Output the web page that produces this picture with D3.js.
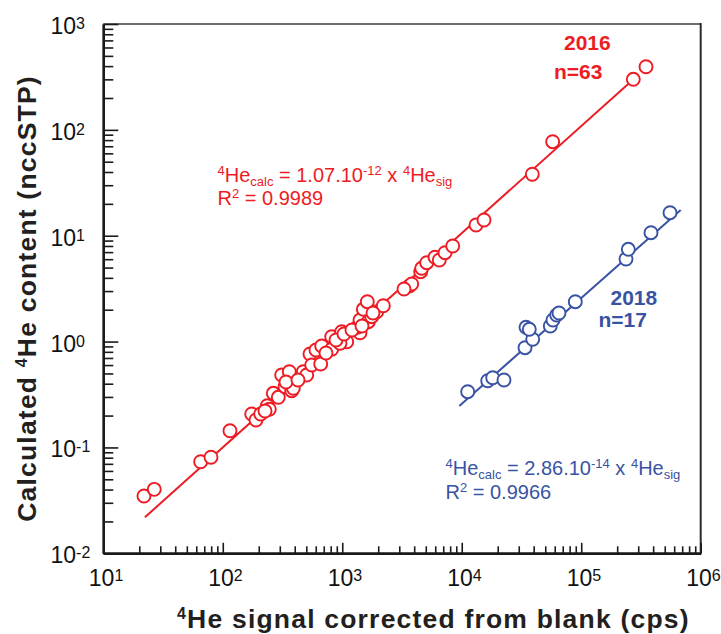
<!DOCTYPE html>
<html>
<head>
<meta charset="utf-8">
<script src="https://cdn.jsdelivr.net/npm/d3@7"></script>
<style>
  body { margin: 0; background: #fff; }
  svg { display: block; font-family: "Liberation Sans", Arial, Helvetica, sans-serif; }
</style>
</head>
<body>
<svg width="721" height="634"></svg>
<script>
// 2016 calibration: signal (cps) vs calculated 4He (nccSTP)
const sig2016 = [21.9, 26.7, 65.3, 79.7, 114.9, 174.6, 189.7, 207.7, 235.8, 245.1,
  264.7, 291.5, 311.2, 331.7, 360.4, 377.4, 389.3, 471.9, 504.0, 537.0,
  554.9, 602.8, 660.1, 672.9, 815.7, 815.7, 989.2, 1089, 957.4, 1408,
  1336, 1408, 1652, 1764, 1500, 1943, 1620, 2206, 3640, 3812,
  4534, 4623, 5090, 5975, 6491, 7244, 8402, 13170, 15360, 38960,
  57700, 272800, 348500, 225.6, 338.1, 426.2, 730.9, 886.3, 1034, 1206,
  1463, 1808, 3286]
const he2016 = [0.0348, 0.0402, 0.0733, 0.0807, 0.1439, 0.207, 0.1816, 0.207, 0.2479, 0.2293,
  0.3246, 0.2976, 0.4834, 0.3748, 0.5194, 0.3436, 0.362, 0.5194, 0.4834, 0.7632,
  0.6009, 0.8328, 0.6141, 0.9083, 0.8456, 1.112, 1.24, 0.997, 0.963, 1.213,
  1.364, 1.599, 1.541, 1.718, 2.018, 1.915, 2.381, 2.182, 3.35, 3.499,
  4.573, 4.922, 5.562, 6.254, 5.897, 6.914, 7.997, 12.63, 14.08, 38.04,
  77.3, 300.3, 395.0, 0.221, 0.4151, 0.4335, 0.78, 1.035, 1.179, 1.286,
  1.404, 1.862, 3.139]

// 2018 calibration
const sig2018 = [11220, 16500, 18160, 22580, 33850, 39260, 34500, 36770, 55100, 58030,
  62340, 65160, 89220, 237100, 247800, 383700, 553600]
const he2018 = [0.3362, 0.427, 0.4557, 0.4336, 0.8755, 1.051, 1.364, 1.306, 1.404, 1.599,
  1.783, 1.862, 2.381, 6.027, 7.441, 10.68, 16.5]

// regression lines, end points [signal, he]
const fit2016 = [[22.3, 0.0219], [287400, 316]]
const fit2018 = [[9541, 0.2463], [680200, 17.5]]

const xExponents = [1, 2, 3, 4, 5, 6]
const yExponents = [-2, -1, 0, 1, 2, 3]

const red = "#ED1C24"
const blue = "#3953A4"

const margin = { left: 103.3, top: 24, right: 700.7, bottom: 553.3 }

const x = d3.scaleLog().domain([1e1, 1e6]).range([margin.left, margin.right])
const y = d3.scaleLog().domain([1e-2, 1e3]).range([margin.bottom, margin.top])

const minorTicks = (lo, hi) => {
    const out = []
    for (let e = lo; e < hi; e++)
        for (let k = 2; k <= 9; k++) out.push(k * Math.pow(10, e))
    return out
}

const svg = d3.select("svg")

// frame: top and right are plain box lines
svg.append("line")
    .attr("x1", margin.left).attr("x2", margin.right)
    .attr("y1", margin.top).attr("y2", margin.top)
    .style("stroke", "#6e6e6e").style("stroke-width", 2)
svg.append("line")
    .attr("x1", margin.right).attr("x2", margin.right)
    .attr("y1", margin.top - 1).attr("y2", margin.bottom)
    .style("stroke", "#2a2a2a").style("stroke-width", 2)

// inward ticks
const gx = svg.append("g").attr("transform", `translate(0,${margin.bottom})`)
gx.append("g").call(d3.axisBottom(x).tickValues(minorTicks(1, 6)).tickSizeInner(-7).tickSizeOuter(0).tickFormat(""))
gx.append("g").call(d3.axisBottom(x).tickValues(xExponents.map(e => Math.pow(10, e))).tickSizeInner(-10.5).tickSizeOuter(0).tickFormat(""))

const gy = svg.append("g").attr("transform", `translate(${margin.left},0)`)
gy.append("g").call(d3.axisLeft(y).tickValues(minorTicks(-2, 3)).tickSizeInner(-10).tickSizeOuter(0).tickFormat(""))
gy.append("g").call(d3.axisLeft(y).tickValues(yExponents.map(e => Math.pow(10, e))).tickSizeInner(-15).tickSizeOuter(0).tickFormat(""))

svg.selectAll(".tick line").style("stroke", "#1a1a1a").style("stroke-width", 1.6)
svg.selectAll(".domain").style("stroke", "#1a1a1a").style("stroke-width", 2.4)

// power-of-ten labels
const powLabel = (sel) => {
    sel.append("tspan").text("10")
    sel.append("tspan").attr("dy", -5).style("font-size", "16px").text(d => d)
}

svg.append("g").selectAll("text")
    .data(xExponents)
    .join("text")
    .attr("x", d => x(Math.pow(10, d)) - 14.5)
    .attr("y", 586)
    .style("font-size", "23px")
    .style("fill", "#111")
    .call(powLabel)

svg.append("g").selectAll("text")
    .data(yExponents)
    .join("text")
    .attr("x", 50.5)
    .attr("y", d => y(Math.pow(10, d)) + 10)
    .style("font-size", "23px")
    .style("fill", "#111")
    .call(powLabel)

// axis titles
const xTitle = svg.append("text")
    .attr("x", 177)
    .attr("y", 628)
    .style("font-size", "26.5px")
    .style("font-weight", "bold")
    .style("letter-spacing", "1.2px")
    .style("fill", "#231f20")
xTitle.append("tspan").attr("dy", -9).style("font-size", "16px").text("4")
xTitle.append("tspan").attr("dy", 9).text("He signal corrected from blank (cps)")

const yTitle = svg.append("text")
    .attr("transform", "translate(36,298.5) rotate(-90)")
    .attr("text-anchor", "middle")
    .style("font-size", "26.5px")
    .style("font-weight", "bold")
    .style("letter-spacing", "1.2px")
    .style("fill", "#231f20")
yTitle.append("tspan").text("Calculated ")
yTitle.append("tspan").attr("dy", -9).style("font-size", "16px").text("4")
yTitle.append("tspan").attr("dy", 9).text("He content (nccSTP)")

// regression lines
const line = d3.line().x(d => x(d[0])).y(d => y(d[1]))
svg.append("path").datum(fit2016).attr("d", line)
    .style("fill", "none").style("stroke", red).style("stroke-width", 2)
svg.append("path").datum(fit2018).attr("d", line)
    .style("fill", "none").style("stroke", blue).style("stroke-width", 2)

// points
const drawPoints = (xs, ys, color) => {
    svg.append("g").selectAll("circle")
        .data(xs.map((v, i) => [v, ys[i]]))
        .join("circle")
        .attr("cx", d => x(d[0]))
        .attr("cy", d => y(d[1]))
        .attr("r", 6.5)
        .style("fill", "#fff")
        .style("stroke", color)
        .style("stroke-width", 1.9)
}
drawPoints(sig2016, he2016, red)
drawPoints(sig2018, he2018, blue)

// annotations
const boldLabel = (tx, ty, str, color) => svg.append("text")
    .attr("x", tx).attr("y", ty)
    .style("font-size", "21px").style("font-weight", "bold")
    .style("fill", color).text(str)
boldLabel(564, 50, "2016", red)
boldLabel(554, 79, "n=63", red)
boldLabel(610.5, 305, "2018", blue)
boldLabel(598.5, 327, "n=17", blue)

const equation = (tx, ty, coef, exp, r2, color) => {
    const t = svg.append("text").attr("x", tx).attr("y", ty)
        .style("font-size", "20px").style("fill", color)
    t.append("tspan").attr("dy", -7).style("font-size", "13px").text("4")
    t.append("tspan").attr("dy", 7).text("He")
    t.append("tspan").attr("dy", 4).style("font-size", "13px").text("calc")
    t.append("tspan").attr("dy", -4).text(" = " + coef + ".10")
    t.append("tspan").attr("dy", -7).style("font-size", "13px").text(exp)
    t.append("tspan").attr("dy", 7).text(" x ")
    t.append("tspan").attr("dy", -7).style("font-size", "13px").text("4")
    t.append("tspan").attr("dy", 7).text("He")
    t.append("tspan").attr("dy", 4).style("font-size", "13px").text("sig")

    const r = svg.append("text").attr("x", tx).attr("y", ty + 23.5)
        .style("font-size", "20px").style("fill", color)
    r.append("tspan").text("R")
    r.append("tspan").attr("dy", -7).style("font-size", "13px").text("2")
    r.append("tspan").attr("dy", 7).text(" = " + r2)
}
equation(217.5, 181.7, "1.07", "-12", "0.9989", red)
equation(445.5, 475, "2.86", "-14", "0.9966", blue)
</script>
</body>
</html>
